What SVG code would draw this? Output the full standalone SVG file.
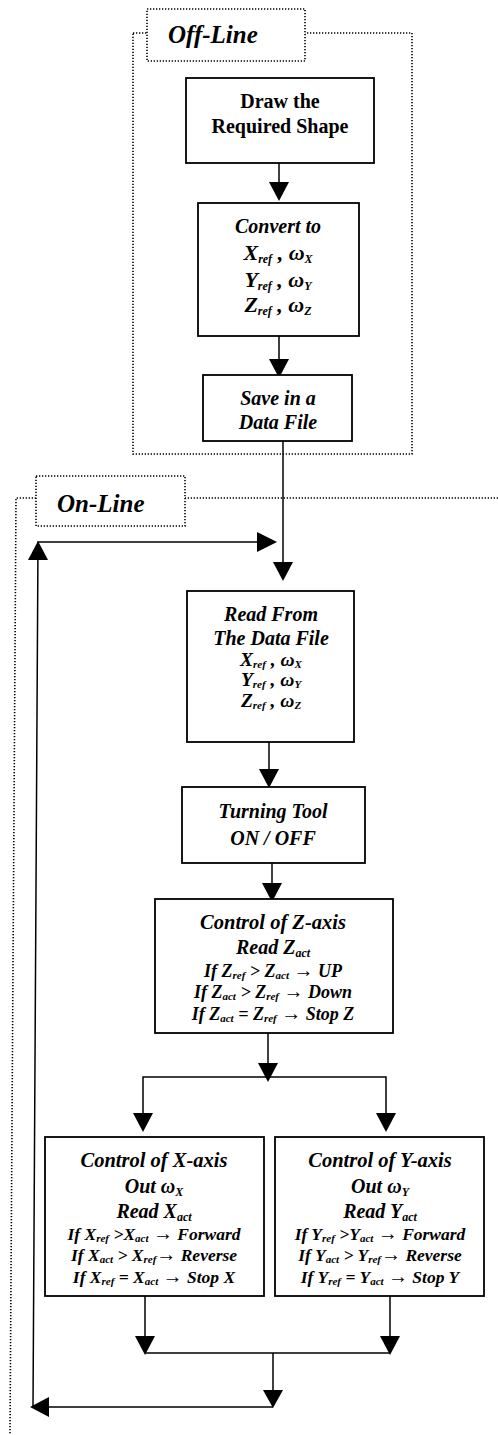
<svg xmlns="http://www.w3.org/2000/svg" width="498" height="1435" viewBox="0 0 498 1435">
<style>
.box{fill:#fff;stroke:#000;stroke-width:1.8}
.dot{fill:none;stroke:#000;stroke-width:1.6;stroke-dasharray:1.3 1.7}
.lbl{fill:#fff;stroke:#000;stroke-width:1.6;stroke-dasharray:1.3 1.7}
.ln{fill:none;stroke:#000;stroke-width:1.5}
.ah{fill:#000}
text{font-family:"Liberation Serif","Times New Roman",serif;fill:#000;text-anchor:middle}
.b{font-weight:bold;font-size:20px}
.bi{font-style:italic;font-weight:bold;font-size:20px}
.it{font-style:italic;font-weight:bold;font-size:20.5px}
.fm{font-style:italic;font-weight:bold;font-size:22px}
.fr{font-style:italic;font-weight:bold;font-size:19.5px}
.cd{font-style:italic;font-weight:bold;font-size:17.5px}
.cz{font-style:italic;font-weight:bold;font-size:18px}
.tt{font-style:italic;font-weight:bold;font-size:25px;text-anchor:start}
.s{font-size:12px}
.s2{font-size:11px}
.ar{font-size:20px}
</style>
<rect width="498" height="1435" fill="#fff"/>
<g id="offline-frame">
<rect class="dot" x="133" y="33" width="279" height="421"/>
<rect class="lbl" x="147" y="9" width="158" height="52"/>
<text class="tt" x="168" y="43">Off-Line</text>
</g>
<g id="online-frame">
<path class="dot" d="M498,498 H16 L10,1435"/>
<rect class="lbl" x="36" y="476" width="149" height="50"/>
<text class="tt" x="57" y="512">On-Line</text>
</g>
<g id="connectors">
<line class="ln" x1="279" y1="163" x2="279" y2="185"/>
<polygon class="ah" points="269,182 289,182 279,201"/>
<line class="ln" x1="279" y1="336" x2="279" y2="362"/>
<polygon class="ah" points="269,359 289,359 279,378"/>
<line class="ln" x1="283" y1="441" x2="283" y2="565"/>
<polygon class="ah" points="273,562 293,562 283,581"/>
<line class="ln" x1="269" y1="742" x2="269" y2="772"/>
<polygon class="ah" points="259,769 279,769 269,788"/>
<line class="ln" x1="272" y1="863" x2="272" y2="886"/>
<polygon class="ah" points="262,883 282,883 272,902"/>
<line class="ln" x1="268" y1="1033" x2="268" y2="1077"/>
<polygon class="ah" points="258,1063 278,1063 268,1082"/>
<polyline class="ln" points="143,1116 143,1077 386,1077 386,1116"/>
<polygon class="ah" points="133,1113 153,1113 143,1132"/>
<polygon class="ah" points="376,1113 396,1113 386,1132"/>
<line class="ln" x1="145" y1="1296" x2="145" y2="1353"/>
<line class="ln" x1="390" y1="1296" x2="390" y2="1353"/>
<polygon class="ah" points="135,1336 155,1336 145,1355"/>
<polygon class="ah" points="380,1336 400,1336 390,1355"/>
<line class="ln" x1="145" y1="1353" x2="390" y2="1353"/>
<line class="ln" x1="273" y1="1353" x2="273" y2="1393"/>
<polygon class="ah" points="263,1390 283,1390 273,1408"/>
<polyline class="ln" points="273,1407 33,1407 38,542 260,542"/>
<polygon class="ah" points="49,1397 49,1417 30,1407"/>
<polygon class="ah" points="28,560 48,560 38,541"/>
<polygon class="ah" points="257,532 257,552 277,542"/>
</g>
<g id="draw">
<rect class="box" x="186" y="78" width="188" height="85"/>
<text class="b" x="280" y="108">Draw the</text>
<text class="b" x="280" y="133">Required Shape</text>
</g>
<g id="convert">
<rect class="box" x="198" y="203" width="161" height="133"/>
<text class="bi" x="278" y="233">Convert to</text>
<text class="fm" x="278" y="260">X<tspan class="s" dy="3">ref</tspan><tspan dy="-3"> , ω</tspan><tspan class="s" dy="3">X</tspan></text>
<text class="fm" x="278" y="287">Y<tspan class="s" dy="3">ref</tspan><tspan dy="-3"> ,  ω</tspan><tspan class="s" dy="3">Y</tspan></text>
<text class="fm" x="278" y="312">Z<tspan class="s" dy="3">ref</tspan><tspan dy="-3"> , ω</tspan><tspan class="s" dy="3">Z</tspan></text>
</g>
<g id="save">
<rect class="box" x="203" y="375" width="149" height="66"/>
<text class="bi" x="278" y="405">Save in a</text>
<text class="bi" x="278" y="429">Data File</text>
</g>
<g id="read">
<rect class="box" x="187" y="591" width="167" height="151"/>
<text class="bi" x="271" y="621">Read From</text>
<text class="bi" x="271" y="645">The Data File</text>
<text class="fr" x="271" y="666">X<tspan class="s2" dy="2">ref</tspan><tspan dy="-2"> ,  ω</tspan><tspan class="s2" dy="2">X</tspan></text>
<text class="fr" x="271" y="686">Y<tspan class="s2" dy="2">ref</tspan><tspan dy="-2"> ,  ω</tspan><tspan class="s2" dy="2">Y</tspan></text>
<text class="fr" x="271" y="707">Z<tspan class="s2" dy="2">ref</tspan><tspan dy="-2"> ,  ω</tspan><tspan class="s2" dy="2">Z</tspan></text>
</g>
<g id="turning">
<rect class="box" x="182" y="787" width="183" height="76"/>
<text class="bi" x="273" y="818">Turning Tool</text>
<text class="bi" x="273" y="845">ON / OFF</text>
</g>
<g id="control-z">
<rect class="box" x="155" y="899" width="238" height="134"/>
<text class="it" x="273" y="929">Control of Z-axis</text>
<text class="bi" x="273" y="954">Read Z<tspan class="s" dy="3">act</tspan></text>
<text class="cz" x="273" y="977">If  Z<tspan class="s2" dy="2">ref</tspan><tspan dy="-2"> &gt; Z</tspan><tspan class="s2" dy="2">act</tspan><tspan dy="-2"> </tspan><tspan class="ar">→</tspan> UP</text>
<text class="cz" x="273" y="998">If  Z<tspan class="s2" dy="2">act</tspan><tspan dy="-2"> &gt; Z</tspan><tspan class="s2" dy="2">ref</tspan><tspan dy="-2"> </tspan><tspan class="ar">→</tspan> Down</text>
<text class="cz" x="273" y="1020">If  Z<tspan class="s2" dy="2">act</tspan><tspan dy="-2"> = Z</tspan><tspan class="s2" dy="2">ref</tspan><tspan dy="-2"> </tspan><tspan class="ar">→</tspan> Stop Z</text>
</g>
<g id="control-x">
<rect class="box" x="45" y="1137" width="219" height="159"/>
<text class="it" x="154" y="1167">Control of X-axis</text>
<text class="bi" x="154" y="1193">Out ω<tspan class="s" dy="3">X</tspan></text>
<text class="bi" x="154" y="1218">Read X<tspan class="s" dy="3">act</tspan></text>
<text class="cd" x="154" y="1240">If X<tspan class="s2" dy="2">ref</tspan><tspan dy="-2"> &gt;X</tspan><tspan class="s2" dy="2">act</tspan><tspan dy="-2"> </tspan><tspan class="ar">→</tspan> Forward</text>
<text class="cd" x="154" y="1261">If X<tspan class="s2" dy="2">act</tspan><tspan dy="-2"> &gt; X</tspan><tspan class="s2" dy="2">ref</tspan><tspan class="ar" dy="-2">→</tspan> Reverse</text>
<text class="cd" x="154" y="1283">If X<tspan class="s2" dy="2">ref</tspan><tspan dy="-2">  = X</tspan><tspan class="s2" dy="2">act</tspan><tspan dy="-2"> </tspan><tspan class="ar">→</tspan> Stop X</text>
</g>
<g id="control-y">
<rect class="box" x="275" y="1137" width="209" height="159"/>
<text class="it" x="380" y="1167">Control of Y-axis</text>
<text class="bi" x="380" y="1193">Out ω<tspan class="s" dy="3">Y</tspan></text>
<text class="bi" x="380" y="1218">Read Y<tspan class="s" dy="3">act</tspan></text>
<text class="cd" x="380" y="1240">If Y<tspan class="s2" dy="2">ref</tspan><tspan dy="-2"> &gt;Y</tspan><tspan class="s2" dy="2">act</tspan><tspan dy="-2"> </tspan><tspan class="ar">→</tspan> Forward</text>
<text class="cd" x="380" y="1261">If Y<tspan class="s2" dy="2">act</tspan><tspan dy="-2"> &gt; Y</tspan><tspan class="s2" dy="2">ref</tspan><tspan class="ar" dy="-2">→</tspan> Reverse</text>
<text class="cd" x="380" y="1283">If Y<tspan class="s2" dy="2">ref</tspan><tspan dy="-2">  = Y</tspan><tspan class="s2" dy="2">act</tspan><tspan dy="-2"> </tspan><tspan class="ar">→</tspan> Stop Y</text>
</g>
</svg>
